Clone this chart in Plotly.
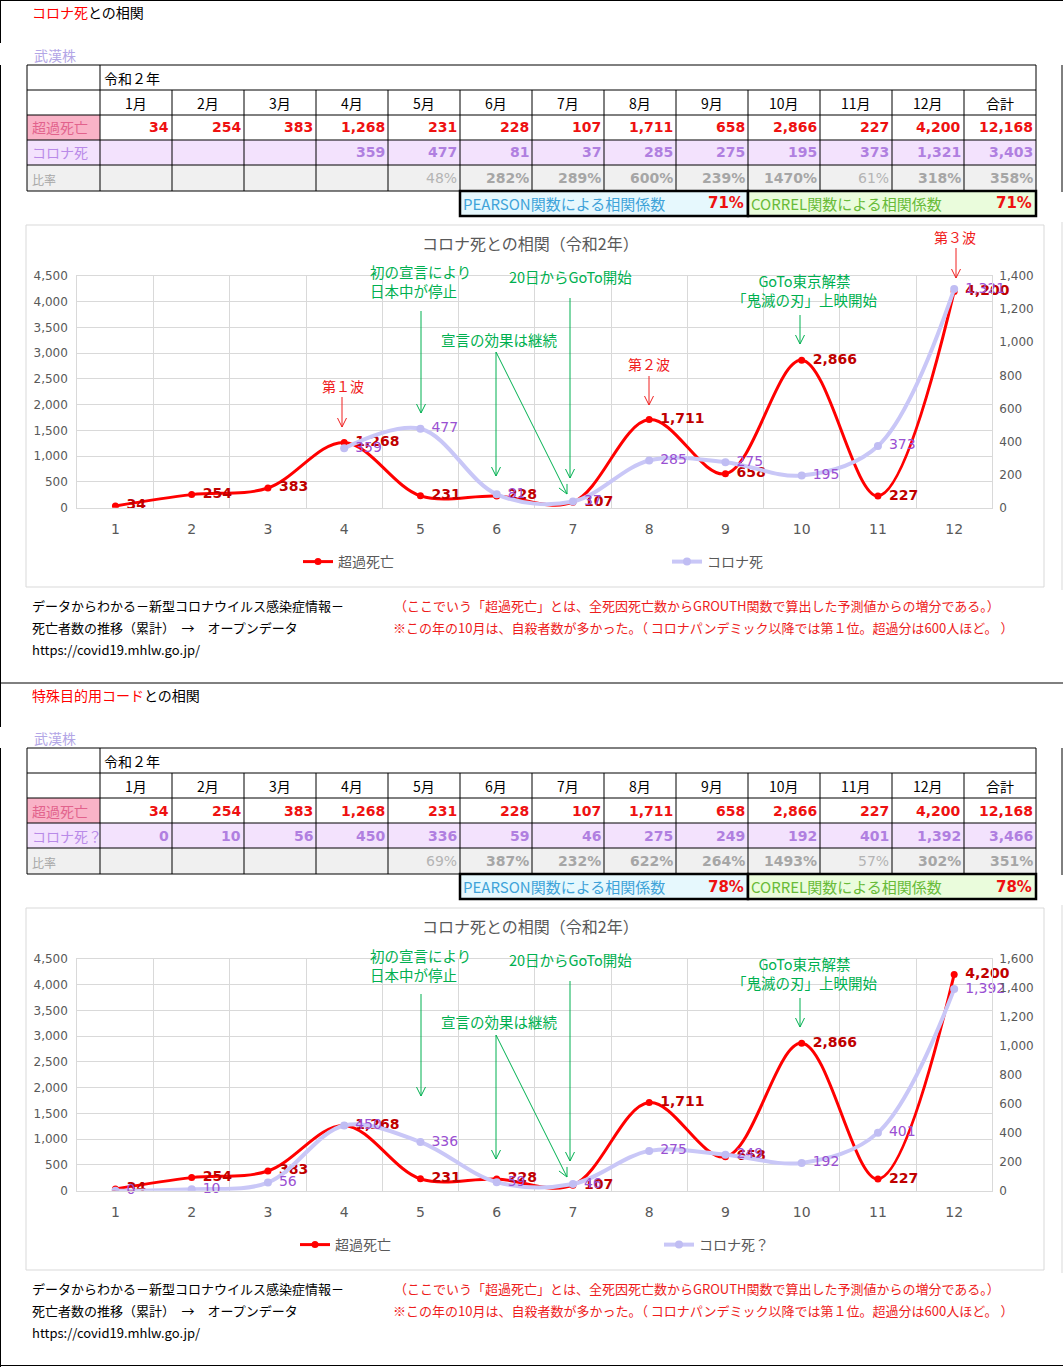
import math
import plotly.graph_objects as go
from plotly.subplots import make_subplots

W, H = 1063, 1367
JP = "Noto Sans CJK JP"
NUM = "DejaVu Sans"

# ---- data (令和2年, monthly) ----
months = [1, 2, 3, 4, 5, 6, 7, 8, 9, 10, 11, 12]
month_labels = ["1月", "2月", "3月", "4月", "5月", "6月", "7月", "8月", "9月", "10月", "11月", "12月"]
total_label = "合計"

excess = [34, 254, 383, 1268, 231, 228, 107, 1711, 658, 2866, 227, 4200]
excess_total = 12168

# コロナ死
corona_a = [None, None, None, 359, 477, 81, 37, 285, 275, 195, 373, 1321]
corona_a_total = 3403
ratio_a = ["", "", "", "", "48%", "282%", "289%", "600%", "239%", "1470%", "61%", "318%"]
ratio_a_total = "358%"
pearson_a = "71%"
correl_a = "71%"

# 特殊目的用コード (コロナ死？)
corona_b = [0, 10, 56, 450, 336, 59, 46, 275, 249, 192, 401, 1392]
corona_b_total = 3466
ratio_b = ["", "", "", "", "69%", "387%", "232%", "622%", "264%", "1493%", "57%", "302%"]
ratio_b_total = "351%"
pearson_b = "78%"
correl_b = "78%"

RED = "#ff0000"
LAV = "#c9c7f7"
GRID = "#d9d9d9"
GREEN = "#00b050"
AXIS_TXT = "#595959"

shapes = []
annots = []


def X(px):
    return px / W


def Y(py):
    return 1 - py / H


def line(x0, y0, x1, y1, color="black", width=1):
    shapes.append(dict(type="line", xref="paper", yref="paper",
                       x0=X(x0), y0=Y(y0), x1=X(x1), y1=Y(y1),
                       line=dict(color=color, width=width)))


def box(x0, y0, x1, y1, fill="rgba(0,0,0,0)", color="rgba(0,0,0,0)", width=0, layer="below"):
    shapes.append(dict(type="rect", xref="paper", yref="paper",
                       x0=X(x0), y0=Y(y0), x1=X(x1), y1=Y(y1),
                       fillcolor=fill, line=dict(color=color, width=width), layer=layer))


def label(x, y, s, size=14, color="black", anchor="left", family=JP, weight="normal", align="left"):
    annots.append(dict(xref="paper", yref="paper", x=X(x), y=Y(y), text=s, showarrow=False,
                       xanchor=anchor, yanchor="middle", align=align,
                       font=dict(family=family, size=size, color=color, weight=weight)))


def arrow(x0, y0, x1, y1, color):
    line(x0, y0, x1, y1, color)
    dx, dy = x1 - x0, y1 - y0
    L = math.hypot(dx, dy)
    ux, uy = dx / L, dy / L
    for s in (1, -1):
        hx = x1 - 9 * ux + s * 4.5 * (-uy)
        hy = y1 - 9 * uy + s * 4.5 * ux
        line(hx, hy, x1, y1, color)


cols = [27] + [100 + 72 * i for i in range(14)]
rows = [65, 90, 115, 140, 165, 191]


def section(off, head_red, corona, corona_total, corona_name, ratio, ratio_total, pearson, correl, waves):
    label(30, 12 + off, f"<span style='color:#ff0000'>{head_red}</span>との相関")
    label(32, 55 + off, "武漢株", color="#b3a6e6")

    r = [v + off for v in rows]
    # fills
    box(cols[0], r[2], cols[1], r[3], fill="#f9b3c7")
    box(cols[0], r[3], cols[-1], r[4], fill="#f3e2fd")
    box(cols[0], r[4], cols[-1], r[5], fill="#f0f0f0")
    # grid
    for yy in r:
        line(cols[0], yy, cols[-1], yy)
    for i, xx in enumerate(cols):
        y_start = r[0] if i in (0, 1, len(cols) - 1) else r[1]
        line(xx, y_start, xx, r[5])

    label(102, (r[0] + r[1]) / 2, "令和２年")
    label(30, (r[2] + r[3]) / 2, "超過死亡", color="#e2628c")
    label(30, (r[3] + r[4]) / 2, corona_name, color="#b98ae8")
    label(30, (r[4] + r[5]) / 2 + 1, "比率", size=12, color="#a6a6a6")

    heads = month_labels + [total_label]
    ex_vals = excess + [excess_total]
    co_vals = corona + [corona_total]
    ra_vals = ratio + [ratio_total]
    for i in range(13):
        x0, x1 = cols[i + 1], cols[i + 2]
        label((x0 + x1) / 2, (r[1] + r[2]) / 2, heads[i], anchor="center")
        label(x1 - 1, (r[2] + r[3]) / 2, f"{ex_vals[i]:,}", size=14, color="#ee1111",
              anchor="right", family=NUM, weight="bold")
        if co_vals[i] is not None:
            label(x1 - 1, (r[3] + r[4]) / 2, f"{co_vals[i]:,}", size=14, color="#b07fe0",
                  anchor="right", family=NUM, weight="bold")
        if ra_vals[i]:
            thin = int(ra_vals[i][:-1]) < 100
            label(x1 - 1, (r[4] + r[5]) / 2, ra_vals[i], size=14,
                  color="#b4b4b4" if thin else "#a6a6a6",
                  anchor="right", family=NUM, weight="normal" if thin else "bold")

    # correlation boxes
    yb0, yb1 = r[5], r[5] + 25
    box(cols[6], yb0, cols[10], yb1, fill="#e6f8fd", color="black", width=2.5, layer="above")
    box(cols[10], yb0, cols[-1], yb1, fill="#eafcdc", color="black", width=2.5, layer="above")
    label(cols[6] + 1, (yb0 + yb1) / 2, "PEARSON関数による相関係数", size=15, color="#3fa3d9")
    label(cols[10] - 2, (yb0 + yb1) / 2, pearson, color="#ee1111", anchor="right", family=NUM, weight="bold", size=15)
    label(cols[10] + 1, (yb0 + yb1) / 2, "CORREL関数による相関係数", size=15, color="#68bb38")
    label(cols[-1] - 2, (yb0 + yb1) / 2, correl, color="#ee1111", anchor="right", family=NUM, weight="bold", size=15)

    # chart frame and title
    box(26, 225 + off, 1044, 587 + off, color=GRID, width=1)
    label(530.5, 243 + off, "コロナ死との相関（令和2年）", size=16, color=AXIS_TXT, anchor="center")

    # callouts
    label(368, 281.5 + off, "初の宣言により<br>日本中が停止", size=14.5, color=GREEN)
    arrow(421, 311 + off, 421, 413 + off, GREEN)
    label(570.5, 276 + off, "20日からGoTo開始", size=14.5, color=GREEN, anchor="center")
    arrow(570, 298 + off, 570, 478 + off, GREEN)
    label(498.5, 339 + off, "宣言の効果は継続", size=14.5, color=GREEN, anchor="center")
    arrow(496, 352 + off, 496, 476 + off, GREEN)
    arrow(496, 352 + off, 567, 494 + off, GREEN)
    label(804, 289.5 + off, "GoTo東京解禁<br>「鬼滅の刃」上映開始", size=14.5, color=GREEN,
          anchor="center", align="center")
    arrow(800, 315 + off, 800, 344 + off, GREEN)
    if waves:
        label(343, 386 + off, "第１波", color="#f02020", anchor="center")
        arrow(342, 397 + off, 342, 427 + off, "#f02020")
        label(649, 364 + off, "第２波", color="#f02020", anchor="center")
        arrow(649, 376 + off, 649, 405 + off, "#f02020")
        label(955, 237 + off, "第３波", color="#f02020", anchor="center")
        arrow(956, 248 + off, 956, 278 + off, "#f02020")

    # footnotes
    label(30, 605 + off, "データからわかる－新型コロナウイルス感染症情報－", size=13)
    label(30, 627 + off, "死亡者数の推移（累計）　→　オープンデータ", size=13)
    label(30, 649 + off, "https://covid19.mhlw.go.jp/", size=13)
    label(392, 605 + off, "（ここでいう「超過死亡」とは、全死因死亡数からGROUTH関数で算出した予測値からの増分である。）",
          size=13, color="#ee1c1c")
    label(391, 627 + off, "※この年の10月は、自殺者数が多かった。（ コロナパンデミック以降では第１位。超過分は600人ほど。 ）",
          size=13, color="#ee1c1c")


section(0, "コロナ死", corona_a, corona_a_total, "コロナ死", ratio_a, ratio_a_total, pearson_a, correl_a, True)
section(683, "特殊目的用コード", corona_b, corona_b_total, "コロナ死？", ratio_b, ratio_b_total, pearson_b, correl_b, False)

# page borders
line(0, 0.5, W, 0.5)
line(0.5, 0, 0.5, 43)
line(0.5, 65, 0.5, 727)
line(0.5, 748, 0.5, H)
line(1062, 65, 1062, 192)
line(1062, 748, 1062, 875)
line(1062, 222, 1062, 590, GRID)
line(1062, 905, 1062, 1273, GRID)
line(0, 683, W, 683)
line(0, 1365.5, W, 1365.5)

fig = make_subplots(rows=2, cols=1, specs=[[{"secondary_y": True}], [{"secondary_y": True}]])


def add_chart(row, corona, corona_name, leg_red, leg_lav):
    fig.add_trace(go.Scatter(x=months, y=excess, mode="lines+markers", name="超過死亡",
                             line=dict(color=RED, width=3, shape="spline"),
                             marker=dict(size=7, color=RED), legend=leg_red, hoverinfo="skip"),
                  row=row, col=1, secondary_y=False)
    fig.add_trace(go.Scatter(x=months, y=excess, mode="markers+text", showlegend=False,
                             text=[f"{v:,}" for v in excess], textposition="middle right",
                             marker=dict(size=16, color="rgba(0,0,0,0)"),
                             textfont=dict(family=NUM, size=14, color="#c00000", weight="bold"),
                             cliponaxis=False, hoverinfo="skip"),
                  row=row, col=1, secondary_y=False)
    fig.add_trace(go.Scatter(x=months, y=corona, mode="lines+markers", name=corona_name,
                             line=dict(color=LAV, width=4, shape="spline"),
                             marker=dict(size=8, color="#c0bdf3"), legend=leg_lav, hoverinfo="skip"),
                  row=row, col=1, secondary_y=True)
    fig.add_trace(go.Scatter(x=months, y=corona, mode="markers+text", showlegend=False,
                             text=[f"{v:,}" if v is not None else "" for v in corona],
                             textposition="middle right",
                             marker=dict(size=16, color="rgba(0,0,0,0)"),
                             textfont=dict(family=NUM, size=14, color="#9a50d2"),
                             cliponaxis=False, hoverinfo="skip"),
                  row=row, col=1, secondary_y=True)


add_chart(1, corona_a, "コロナ死", "legend", "legend2")
add_chart(2, corona_b, "コロナ死？", "legend3", "legend4")

xdom = [X(77.3), X(992.3)]
bounds = [m - 0.5 for m in months] + [12.5]
xcommon = dict(domain=xdom, range=[0.5, 12.5], tickmode="array", tickvals=months,
               ticktext=[str(m) for m in months], showgrid=False, zeroline=False,
               showline=True, mirror=True, linecolor=GRID, ticks="", ticklabelstandoff=8,
               tickfont=dict(family=NUM, size=14, color=AXIS_TXT), automargin=False,
               minor=dict(tickmode="array", tickvals=bounds, showgrid=True, gridcolor=GRID, ticks=""))
yleft = dict(range=[0, 4500], dtick=500, tickformat=",", gridcolor=GRID, zeroline=False,
             showline=True, mirror=True, linecolor=GRID, ticks="", ticklabelstandoff=6,
             automargin=False, tickfont=dict(family=NUM, size=12, color=AXIS_TXT))
yright = dict(dtick=200, tickformat=",", showgrid=False, zeroline=False, showline=False,
              ticks="", ticklabelstandoff=6, automargin=False,
              tickfont=dict(family=NUM, size=12, color=AXIS_TXT))

dom1 = [Y(507.7), Y(276)]
dom2 = [Y(507.7 + 683), Y(276 + 683)]

legfont = dict(family=JP, size=14, color=AXIS_TXT)


def leg(x, y):
    return dict(x=X(x), y=Y(y), xanchor="left", yanchor="middle", orientation="h",
                font=legfont, bgcolor="rgba(0,0,0,0)", itemwidth=30)


fig.update_layout(
    width=W, height=H, margin=dict(l=0, r=0, t=0, b=0, pad=0, autoexpand=False),
    paper_bgcolor="white", plot_bgcolor="white",
    xaxis=dict(xcommon),
    xaxis2=dict(xcommon),
    yaxis=dict(yleft, domain=dom1),
    yaxis2=dict(yright, range=[0, 1400]),
    yaxis3=dict(yleft, domain=dom2),
    yaxis4=dict(yright, range=[0, 1600]),
    legend=leg(298, 562),
    legend2=leg(667, 562),
    legend3=leg(295, 562 + 683),
    legend4=leg(659, 562 + 683),
    shapes=shapes,
    annotations=annots,
    hovermode=False,
)

page_js = ("document.documentElement.style.margin='0';document.body.style.margin='0';"
           "document.body.style.overflow='hidden';"
           "var d=document.getElementById('{plot_id}');"
           "d.style.position='fixed';d.style.top='0px';d.style.left='0px';")

fig.write_html("out.html", config={"displayModeBar": False}, post_script=page_js)
